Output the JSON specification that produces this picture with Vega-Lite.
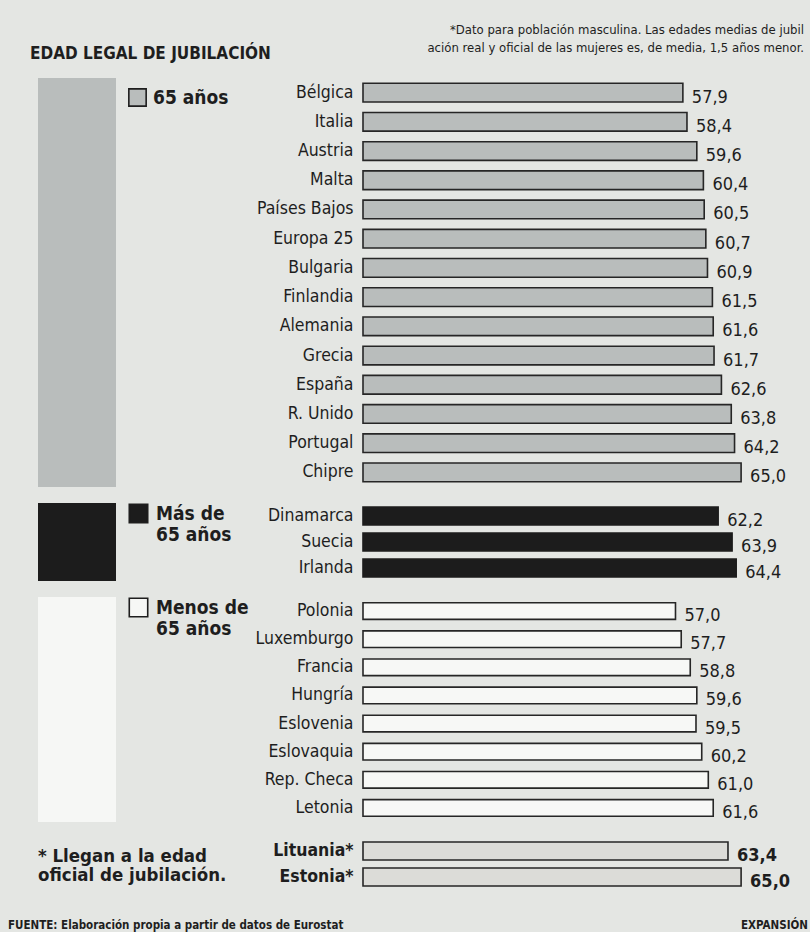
{
  "$schema": "https://vega.github.io/schema/vega-lite/v6.json",
  "padding": {"left": 8, "top": 24, "right": 0, "bottom": 2},
  "background": "#e4e6e3",
  "title": {
    "text": "FUENTE: Elaboración propia a partir de datos de Eurostat",
    "orient": "bottom", "anchor": "start", "frame": "group",
    "dx": -30, "offset": -2.5, "baseline": "alphabetic",
    "fontSize": 11.5, "fontWeight": "bold"
  },
  "columns": 2,
  "align": "each",
  "bounds": "flush",
  "spacing": {"row": 16, "column": 247},
  "resolve": {
    "scale": {"color": "independent", "x": "independent", "y": "independent"},
    "legend": {"color": "independent"}
  },
  "datasets": {
    "paises": [
      {"pais": "Bélgica", "edad": 57.9, "grupo": "65 años"},
      {"pais": "Italia", "edad": 58.4, "grupo": "65 años"},
      {"pais": "Austria", "edad": 59.6, "grupo": "65 años"},
      {"pais": "Malta", "edad": 60.4, "grupo": "65 años"},
      {"pais": "Países Bajos", "edad": 60.5, "grupo": "65 años"},
      {"pais": "Europa 25", "edad": 60.7, "grupo": "65 años"},
      {"pais": "Bulgaria", "edad": 60.9, "grupo": "65 años"},
      {"pais": "Finlandia", "edad": 61.5, "grupo": "65 años"},
      {"pais": "Alemania", "edad": 61.6, "grupo": "65 años"},
      {"pais": "Grecia", "edad": 61.7, "grupo": "65 años"},
      {"pais": "España", "edad": 62.6, "grupo": "65 años"},
      {"pais": "R. Unido", "edad": 63.8, "grupo": "65 años"},
      {"pais": "Portugal", "edad": 64.2, "grupo": "65 años"},
      {"pais": "Chipre", "edad": 65.0, "grupo": "65 años"},
      {"pais": "Dinamarca", "edad": 62.2, "grupo": "Más de 65 años"},
      {"pais": "Suecia", "edad": 63.9, "grupo": "Más de 65 años"},
      {"pais": "Irlanda", "edad": 64.4, "grupo": "Más de 65 años"},
      {"pais": "Polonia", "edad": 57.0, "grupo": "Menos de 65 años"},
      {"pais": "Luxemburgo", "edad": 57.7, "grupo": "Menos de 65 años"},
      {"pais": "Francia", "edad": 58.8, "grupo": "Menos de 65 años"},
      {"pais": "Hungría", "edad": 59.6, "grupo": "Menos de 65 años"},
      {"pais": "Eslovenia", "edad": 59.5, "grupo": "Menos de 65 años"},
      {"pais": "Eslovaquia", "edad": 60.2, "grupo": "Menos de 65 años"},
      {"pais": "Rep. Checa", "edad": 61.0, "grupo": "Menos de 65 años"},
      {"pais": "Letonia", "edad": 61.6, "grupo": "Menos de 65 años"},
      {"pais": "Lituania", "edad": 63.4, "grupo": "Edad oficial"},
      {"pais": "Estonia", "edad": 65.0, "grupo": "Edad oficial"}
    ],
    "grupos": [
      {"grupo": "65 años"},
      {"grupo": "Más de 65 años"},
      {"grupo": "Menos de 65 años"},
      {"grupo": "Edad oficial"}
    ]
  },
  "concat": [
    {
      "width": 78, "height": 409,
      "data": {"name": "grupos"},
      "transform": [{"filter": "datum.grupo === '65 años'"}],
      "title": {
        "text": "EDAD LEGAL DE JUBILACIÓN", "anchor": "start", "frame": "group",
        "dx": -8, "offset": 2, "baseline": "alphabetic",
        "fontSize": 17, "fontWeight": "bold"
      },
      "mark": {"type": "rect"},
      "encoding": {
        "color": {
          "field": "grupo", "type": "nominal",
          "scale": {"domain": ["65 años"], "range": ["#b9bdbc"]},
          "legend": {"padding": 10, "offset": 2, "symbolSize": 300, "labelOffset": 6,
                     "labelExpr": "split(replace(datum.label, 'de ', 'de|'), '|')"}
        }
      }
    },
    {
      "width": 447, "height": 409,
      "data": {"name": "paises"},
      "transform": [{"filter": "datum.grupo === '65 años'"}],
      "title": {
        "text": ["*Dato para población masculina. Las edades medias de jubil", "ación real y oficial de las mujeres es, de media, 1,5 años menor."],
        "anchor": "end", "frame": "group", "dx": -6, "offset": 13,
        "baseline": "alphabetic", "lineHeight": 18,
        "fontSize": 13, "fontWeight": "normal"
      },
      "encoding": {
        "y": {"field": "pais", "type": "nominal", "sort": null,
              "scale": {"paddingInner": 0.36, "paddingOuter": 0.18}},
        "x": {"field": "edad", "type": "quantitative",
              "scale": {"domain": [18.9, 73.4], "zero": false, "nice": false, "clamp": true}, "axis": null}
      },
      "layer": [
        {"mark": {"type": "bar", "fill": "#b9bdbc", "stroke": "#262626", "strokeWidth": 1.6}},
        {"mark": {"type": "text", "align": "left", "baseline": "middle", "dx": 9, "dy": 5, "fontSize": 18, "fill": "#1e1e1e"},
         "encoding": {"text": {"field": "edad", "type": "quantitative", "format": ".1f"}}}
      ]
    },
    {
      "width": 78, "height": 78,
      "data": {"name": "grupos"},
      "transform": [{"filter": "datum.grupo === 'Más de 65 años'"}],
      "mark": {"type": "rect"},
      "encoding": {
        "color": {
          "field": "grupo", "type": "nominal",
          "scale": {"domain": ["Más de 65 años"], "range": ["#1c1c1c"]},
          "legend": {
            "labelExpr": "split(replace(datum.label, 'de ', 'de|'), '|')",
            "encoding": {"labels": {"update": {"dy": {"value": 12}, "lineHeight": {"value": 25}}}}
          }
        }
      }
    },
    {
      "width": 447, "height": 78,
      "data": {"name": "paises"},
      "transform": [{"filter": "datum.grupo === 'Más de 65 años'"}],
      "encoding": {
        "y": {"field": "pais", "type": "nominal", "sort": null,
              "scale": {"paddingInner": 0.31, "paddingOuter": 0.155}},
        "x": {"field": "edad", "type": "quantitative",
              "scale": {"domain": [18.9, 73.4], "zero": false, "nice": false, "clamp": true}, "axis": null}
      },
      "layer": [
        {"mark": {"type": "bar", "fill": "#1c1c1c", "stroke": "#1c1c1c", "strokeWidth": 1.6}},
        {"mark": {"type": "text", "align": "left", "baseline": "middle", "dx": 9, "dy": 5, "fontSize": 18, "fill": "#1e1e1e"},
         "encoding": {"text": {"field": "edad", "type": "quantitative", "format": ".1f"}}}
      ]
    },
    {
      "width": 78, "height": 225,
      "data": {"name": "grupos"},
      "transform": [{"filter": "datum.grupo === 'Menos de 65 años'"}],
      "mark": {"type": "rect"},
      "encoding": {
        "color": {
          "field": "grupo", "type": "nominal",
          "scale": {"domain": ["Menos de 65 años"], "range": ["#f6f7f5"]},
          "legend": {
            "labelExpr": "split(replace(datum.label, 'de ', 'de|'), '|')",
            "encoding": {"labels": {"update": {"dy": {"value": 12}, "lineHeight": {"value": 25}}}}
          }
        }
      }
    },
    {
      "width": 447, "height": 225,
      "data": {"name": "paises"},
      "transform": [{"filter": "datum.grupo === 'Menos de 65 años'"}],
      "encoding": {
        "y": {"field": "pais", "type": "nominal", "sort": null,
              "scale": {"paddingInner": 0.41, "paddingOuter": 0.205}},
        "x": {"field": "edad", "type": "quantitative",
              "scale": {"domain": [18.9, 73.4], "zero": false, "nice": false, "clamp": true}, "axis": null}
      },
      "layer": [
        {"mark": {"type": "bar", "fill": "#f7f8f6", "stroke": "#262626", "strokeWidth": 1.6}},
        {"mark": {"type": "text", "align": "left", "baseline": "middle", "dx": 9, "dy": 5, "fontSize": 18, "fill": "#1e1e1e"},
         "encoding": {"text": {"field": "edad", "type": "quantitative", "format": ".1f"}}}
      ]
    },
    {
      "width": 78, "height": 52,
      "data": {"name": "grupos"},
      "transform": [{"filter": "datum.grupo === 'Edad oficial'"}],
      "title": {
        "text": ["* Llegan a la edad", "oficial de jubilación."],
        "anchor": "start", "frame": "group", "offset": -61.5,
        "baseline": "alphabetic", "lineHeight": 19,
        "fontSize": 18.5, "fontWeight": "bold"
      },
      "mark": {"type": "rect", "fill": "transparent"}
    },
    {
      "width": 447, "height": 52,
      "data": {"name": "paises"},
      "transform": [{"filter": "datum.grupo === 'Edad oficial'"}],
      "title": {
        "text": "EXPANSIÓN", "orient": "bottom", "anchor": "end", "frame": "group",
        "dx": -2, "offset": 38, "baseline": "alphabetic",
        "fontSize": 11.5, "fontWeight": "bold"
      },
      "encoding": {
        "y": {"field": "pais", "type": "nominal", "sort": null,
              "scale": {"paddingInner": 0.31, "paddingOuter": 0.155},
              "axis": {"labelFontWeight": "bold", "labelExpr": "datum.label + '*'"}},
        "x": {"field": "edad", "type": "quantitative",
              "scale": {"domain": [18.9, 73.4], "zero": false, "nice": false, "clamp": true}, "axis": null}
      },
      "layer": [
        {"mark": {"type": "bar", "fill": "#dcdcd8", "stroke": "#262626", "strokeWidth": 1.6}},
        {"mark": {"type": "text", "align": "left", "baseline": "middle", "dx": 9, "dy": 5, "fontSize": 18, "fontWeight": "bold", "fill": "#1e1e1e"},
         "encoding": {"text": {"field": "edad", "type": "quantitative", "format": ".1f"}}}
      ]
    }
  ],
  "config": {
    "font": "DejaVu Sans Condensed",
    "view": {"stroke": null},
    "locale": {"number": {"decimal": ",", "thousands": ".", "grouping": [3], "currency": ["", " €"]}},
    "axisY": {"domain": false, "ticks": false, "labelPadding": 10, "labelFontSize": 17.5, "labelColor": "#1e1e1e", "title": null, "labelLimit": 300},
    "legend": {
      "orient": "right", "title": null, "offset": 12, "padding": 0,
      "symbolType": "square", "symbolSize": 340, "symbolStrokeColor": "#1e1e1e", "symbolStrokeWidth": 1.6,
      "labelFontSize": 19, "labelFontWeight": "bold", "labelColor": "#1e1e1e", "labelOffset": 7, "labelLimit": 300
    },
    "title": {"color": "#1e1e1e"}
  }
}
